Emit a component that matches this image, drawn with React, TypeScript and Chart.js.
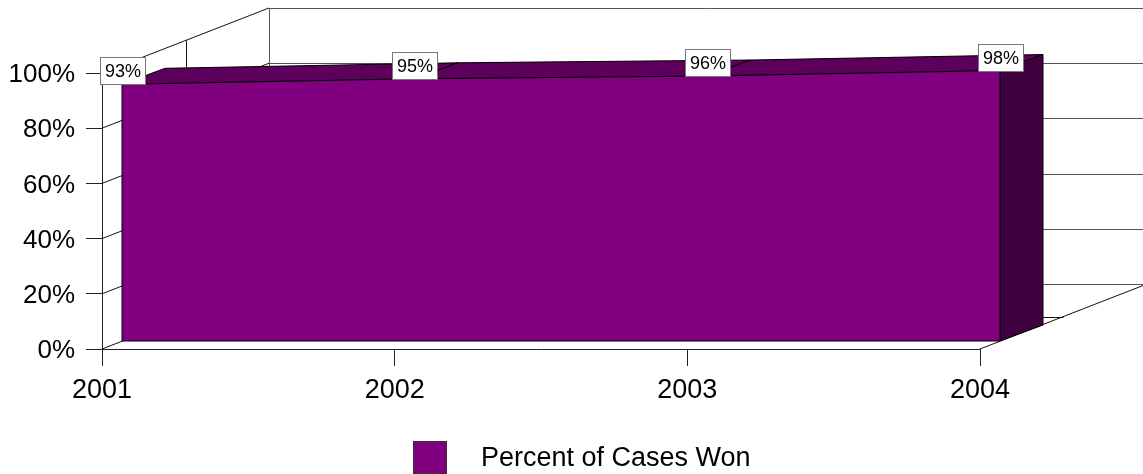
import React, { useEffect, useRef } from "react";
import { Chart, registerables } from "chart.js";

Chart.register(...registerables);

const categories = ["2001", "2002", "2003", "2004"];
const percentWon = [93, 95, 96, 98];
const yTickValues = [0, 20, 40, 60, 80, 100];
const seriesName = "Percent of Cases Won";

const FONT = "'Liberation Sans', Arial, sans-serif";
const FRONT = "#800080";
const TOP = "#5c005c";
const SIDE = "#3e003e";

// 3D geometry (pixel offsets)
const SX = 20, SY = -8; // series front plane offset
const DX = 43, DY = -16; // series depth
const WX = 167, WY = -65; // wall depth

const threeD = {
  id: "threeD",
  beforeDatasetsDraw(chart: any) {
    const ctx = chart.ctx;
    const { left, right, top, bottom } = chart.chartArea;
    const y = chart.scales.y;
    ctx.save();
    ctx.lineWidth = 1;
    // back wall gridlines
    ctx.strokeStyle = "#555";
    for (const v of yTickValues) {
      const py = Math.round(y.getPixelForValue(v)) + 0.5;
      ctx.beginPath();
      ctx.moveTo(left + WX, py + WY);
      ctx.lineTo(right + WX, py + WY);
      ctx.stroke();
    }
    ctx.beginPath();
    ctx.moveTo(left + WX + 0.5, top + WY);
    ctx.lineTo(left + WX + 0.5, bottom + WY);
    ctx.stroke();
    // left wall lines
    ctx.strokeStyle = "#111";
    for (const v of yTickValues) {
      const py = y.getPixelForValue(v);
      ctx.beginPath();
      ctx.moveTo(left, py);
      ctx.lineTo(left + WX, py + WY);
      ctx.stroke();
    }
    // floor right edge
    ctx.beginPath();
    ctx.moveTo(right, bottom);
    ctx.lineTo(right + WX, bottom + WY);
    ctx.stroke();
    // mid-depth lines
    const mx = Math.round(left + WX / 2) + 0.5;
    const my = Math.round(bottom + WY / 2) + 0.5;
    ctx.beginPath();
    ctx.moveTo(mx, top + WY / 2);
    ctx.lineTo(mx, my);
    ctx.lineTo(right + WX / 2, my);
    ctx.stroke();

    // series top faces and side face
    const meta = chart.getDatasetMeta(0);
    const pts = meta.data.map((p: any) => ({ x: p.x + SX, y: p.y + SY }));
    const base = y.getPixelForValue(0) + SY;
    ctx.strokeStyle = "#000";
    for (let i = 0; i < pts.length - 1; i++) {
      const a = pts[i], b = pts[i + 1];
      ctx.beginPath();
      ctx.moveTo(a.x, a.y);
      ctx.lineTo(b.x, b.y);
      ctx.lineTo(b.x + DX, b.y + DY);
      ctx.lineTo(a.x + DX, a.y + DY);
      ctx.closePath();
      ctx.fillStyle = TOP;
      ctx.fill();
      ctx.stroke();
    }
    const r = pts[pts.length - 1];
    ctx.beginPath();
    ctx.moveTo(r.x, r.y);
    ctx.lineTo(r.x, base);
    ctx.lineTo(r.x + DX, base + DY);
    ctx.lineTo(r.x + DX, r.y + DY);
    ctx.closePath();
    ctx.fillStyle = SIDE;
    ctx.fill();
    ctx.stroke();
    ctx.restore();

    ctx.save();
    ctx.translate(SX, SY);
  },
  afterDatasetsDraw(chart: any) {
    const ctx = chart.ctx;
    ctx.restore();
    const y = chart.scales.y;
    const meta = chart.getDatasetMeta(0);
    const pts = meta.data.map((p: any) => ({ x: p.x + SX, y: p.y + SY }));
    const base = y.getPixelForValue(0) + SY;
    ctx.save();
    ctx.strokeStyle = "#000";
    ctx.lineWidth = 1;
    const l = pts[0], r = pts[pts.length - 1];
    ctx.beginPath();
    ctx.moveTo(l.x, l.y);
    ctx.lineTo(l.x, base);
    ctx.lineTo(r.x, base);
    ctx.lineTo(r.x, r.y);
    ctx.stroke();

    // data labels
    ctx.font = `18px ${FONT}`;
    ctx.textAlign = "center";
    ctx.textBaseline = "middle";
    const vals = chart.data.datasets[0].data;
    pts.forEach((p: any, i: number) => {
      const txt = `${vals[i]}%`;
      const w = Math.round(ctx.measureText(txt).width + 9);
      const h = 27;
      const bx = Math.round(p.x - w / 2) + 0.5;
      const by = Math.round(p.y - h) + 0.5;
      ctx.fillStyle = "#fff";
      ctx.fillRect(bx, by, w, h);
      ctx.strokeStyle = "#777";
      ctx.strokeRect(bx, by, w, h);
      ctx.fillStyle = "#000";
      ctx.fillText(txt, bx + w / 2, by + h / 2 + 1);
    });
    ctx.restore();
  },
  afterDraw(chart: any) {
    const ctx = chart.ctx;
    ctx.save();
    ctx.fillStyle = FRONT;
    ctx.fillRect(413.5, 441.5, 33, 32);
    ctx.strokeStyle = "#333";
    ctx.strokeRect(413.5, 441.5, 33, 32);
    ctx.fillStyle = "#000";
    ctx.font = `27px ${FONT}`;
    ctx.textAlign = "left";
    ctx.textBaseline = "middle";
    ctx.fillText(chart.data.datasets[0].label, 481, 459);
    ctx.restore();
  },
};

export default function App() {
  const ref = useRef<HTMLCanvasElement>(null);
  useEffect(() => {
    if (!ref.current) return;
    const chart = new Chart(ref.current, {
      type: "line",
      data: {
        labels: categories,
        datasets: [
          {
            label: seriesName,
            data: percentWon,
            fill: "origin",
            backgroundColor: FRONT,
            borderColor: "#000",
            borderWidth: 1,
            pointRadius: 0,
            tension: 0,
            clip: false as any,
          },
        ],
      },
      options: {
        animation: false,
        responsive: false,
        devicePixelRatio: 1,
        layout: { padding: { left: 0, top: 73, right: 163, bottom: 0 } },
        plugins: { legend: { display: false }, tooltip: { enabled: false } },
        scales: {
          x: {
            type: "category",
            offset: false,
            grid: { drawOnChartArea: false, drawTicks: true, tickLength: 17, color: "#222" },
            border: { color: "#222" },
            ticks: { font: { family: FONT, size: 27 }, color: "#000", padding: 8, maxRotation: 0 },
            afterFit: (s: any) => { s.height = 125; },
          },
          y: {
            min: 0,
            max: 100,
            grid: { drawOnChartArea: false, drawTicks: true, tickLength: 16, color: "#222" },
            border: { color: "#222" },
            afterBuildTicks: (s: any) => { s.ticks = yTickValues.map((v) => ({ value: v })); },
            ticks: {
              font: { family: FONT, size: 26 },
              color: "#000",
              padding: 11,
              labelOffset: 2,
              callback: (v: any) => `${v}%`,
            },
            afterFit: (s: any) => { s.width = 102; },
          },
        },
      },
      plugins: [threeD],
    });
    return () => chart.destroy();
  }, []);
  return (
    <div style={{ position: "absolute", left: 0, top: 0, width: 1143, height: 474, background: "#fff" }}>
      <canvas ref={ref} width={1143} height={474} />
    </div>
  );
}
